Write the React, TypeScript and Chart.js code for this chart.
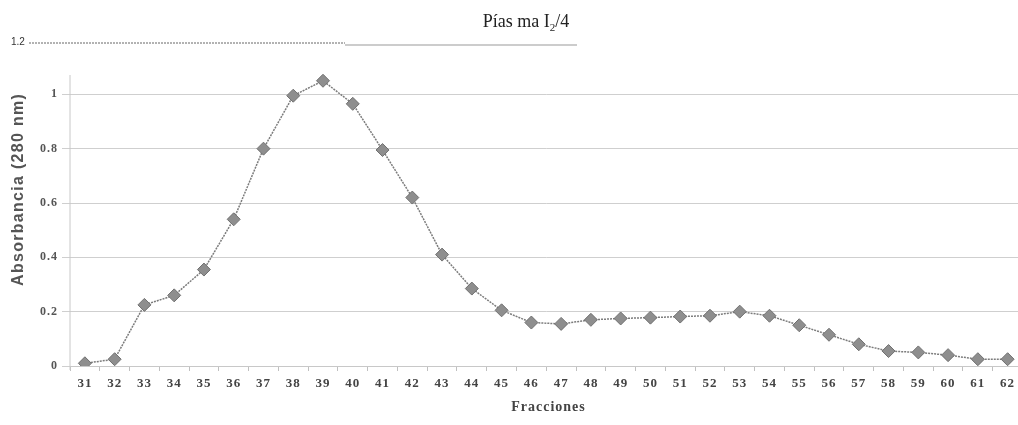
import React, { useEffect, useRef } from "react";
import { Chart, registerables } from "chart.js";

Chart.register(...registerables);

const fractions: string[] = [
  "31", "32", "33", "34", "35", "36", "37", "38", "39", "40", "41", "42", "43", "44", "45", "46",
  "47", "48", "49", "50", "51", "52", "53", "54", "55", "56", "57", "58", "59", "60", "61", "62",
];

const absorbance: number[] = [
  0.01, 0.025, 0.225, 0.26, 0.355, 0.54, 0.8, 0.995, 1.05, 0.965, 0.795, 0.62, 0.41, 0.285, 0.205, 0.16,
  0.155, 0.17, 0.175, 0.178, 0.182, 0.185, 0.2, 0.185, 0.15, 0.115, 0.08, 0.055, 0.05, 0.04, 0.025, 0.025,
];

const yTicks: number[] = [0, 0.2, 0.4, 0.6, 0.8, 1, 1.2];
const titleMain = "Pías ma I";
const titleSub = "2";
const titleTail = "/4";
const yTitle = "Absorbancia (280 nm)";
const xTitle = "Fracciones";

const decorPlugin = {
  id: "decor",
  beforeDraw(chart: any) {
    const ctx = chart.ctx as any;
    ctx.letterSpacing = "1px";
  },
  afterDraw(chart: any) {
    const ctx = chart.ctx as any;
    const y = chart.scales.y;
    const area = chart.chartArea;
    ctx.save();
    ctx.letterSpacing = "0px";
    // main title with subscript
    ctx.fillStyle = "#222";
    ctx.textBaseline = "alphabetic";
    ctx.font = "18px 'Liberation Serif'";
    const w1 = ctx.measureText(titleMain).width;
    ctx.font = "11px 'Liberation Serif'";
    const w2 = ctx.measureText(titleSub).width;
    ctx.font = "18px 'Liberation Serif'";
    const w3 = ctx.measureText(titleTail).width;
    const total = w1 + w2 + w3;
    let tx = 526 - total / 2;
    const ty = 27;
    ctx.textAlign = "left";
    ctx.fillText(titleMain, tx, ty);
    tx += w1;
    ctx.font = "11px 'Liberation Serif'";
    ctx.fillText(titleSub, tx, ty + 4);
    tx += w2;
    ctx.font = "18px 'Liberation Serif'";
    ctx.fillText(titleTail, tx, ty);

    // 1.2 top line (partly dashed, partly solid)
    const y12 = y.getPixelForValue(1.2);
    ctx.font = "10px 'Liberation Sans'";
    ctx.fillStyle = "#333";
    ctx.textBaseline = "middle";
    ctx.fillText("1.2", 11, y12 + 2);
    ctx.strokeStyle = "#555";
    ctx.lineWidth = 0.9;
    ctx.setLineDash([2, 1]);
    ctx.beginPath();
    ctx.moveTo(29, y12 + 3);
    ctx.lineTo(345, y12 + 3);
    ctx.stroke();
    ctx.setLineDash([]);
    ctx.strokeStyle = "#999";
    ctx.lineWidth = 1.2;
    ctx.beginPath();
    ctx.moveTo(345, y12 + 5);
    ctx.lineTo(577, y12 + 5);
    ctx.stroke();

    // y axis line
    ctx.strokeStyle = "#c8c8c8";
    ctx.lineWidth = 1;
    ctx.beginPath();
    ctx.moveTo(area.left, 75);
    ctx.lineTo(area.left, area.bottom + 4);
    ctx.stroke();

    // y title
    ctx.save();
    ctx.translate(19, 190);
    ctx.rotate(-Math.PI / 2);
    ctx.letterSpacing = "1.3px";
    ctx.font = "bold 16px 'Liberation Sans'";
    ctx.fillStyle = "#555";
    ctx.textAlign = "center";
    ctx.textBaseline = "middle";
    ctx.fillText(yTitle, 0.6, 0);
    ctx.restore();

    // x title
    ctx.letterSpacing = "1px";
    ctx.font = "bold 14px 'Liberation Serif'";
    ctx.fillStyle = "#444";
    ctx.textAlign = "center";
    ctx.textBaseline = "middle";
    ctx.fillText(xTitle, 548.5, 407);
    ctx.restore();
  },
};

export default function App() {
  const ref = useRef<HTMLCanvasElement | null>(null);
  useEffect(() => {
    if (!ref.current) return;
    const chart = new Chart(ref.current, {
      type: "line",
      data: {
        labels: fractions,
        datasets: [
          {
            data: absorbance,
            borderColor: "#7c7c7c",
            borderWidth: 1.5,
            borderDash: [2, 1],
            pointStyle: "rectRot",
            pointRadius: 6.5,
            pointBackgroundColor: "#8e8e8e",
            pointBorderColor: "#707070",
            pointBorderWidth: 1,
            tension: 0,
          },
        ],
      },
      options: {
        animation: false,
        responsive: true,
        maintainAspectRatio: false,
        layout: { padding: { top: 40, right: 3, left: 0, bottom: 0 } },
        plugins: { legend: { display: false }, tooltip: { enabled: false }, title: { display: false } },
        scales: {
          x: {
            type: "category",
            offset: true,
            grid: { offset: true, drawOnChartArea: false, tickLength: 5, color: "#c0c0c0" },
            border: { color: "#c8c8c8" },
            ticks: {
              font: { family: "'Liberation Serif'", size: 13, weight: "bold" },
              color: "#444",
              padding: 5,
              maxRotation: 0,
              autoSkip: false,
            },
            afterFit: (s: any) => {
              s.height = 59;
            },
          },
          y: {
            min: 0,
            max: 1.2,
            afterBuildTicks: (s: any) => {
              s.ticks = yTicks.map((v) => ({ value: v }));
            },
            grid: {
              tickLength: 8,
              color: (c: any) => (c.tick && c.tick.value >= 1.19 ? "rgba(0,0,0,0)" : "#cfcfcf"),
            },
            border: { display: false },
            ticks: {
              font: { family: "'Liberation Serif'", size: 12, weight: "bold" },
              color: "#555",
              padding: 4,
              callback: (v: any) => (Number(v) >= 1.19 ? "" : String(Math.round(Number(v) * 10) / 10)),
            },
            afterFit: (s: any) => {
              s.width = 70;
            },
          },
        },
      },
      plugins: [decorPlugin],
    });
    return () => chart.destroy();
  }, []);

  return (
    <div
      style={{
        position: "absolute",
        left: 0,
        top: 0,
        width: 1018,
        height: 425,
        overflow: "hidden",
        background: "#fff",
      }}
    >
      <div style={{ position: "relative", width: 1030, height: 425 }}>
        <canvas ref={ref} />
      </div>
    </div>
  );
}
